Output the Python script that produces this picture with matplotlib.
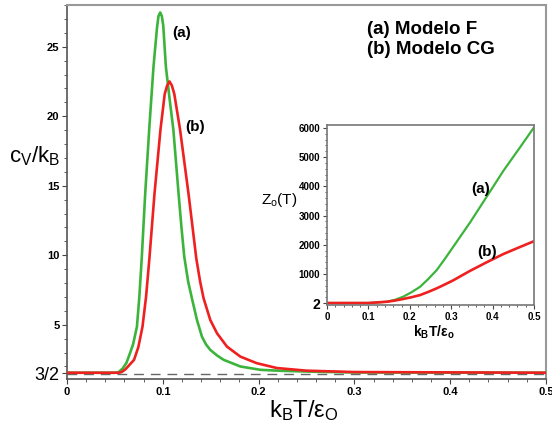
import numpy as np
import matplotlib
matplotlib.use("Agg")
import matplotlib.pyplot as plt
from matplotlib.ticker import MultipleLocator

plt.rcParams['font.family'] = ['Liberation Sans', 'DejaVu Sans']
plt.rcParams['mathtext.fontset'] = 'custom'
plt.rcParams['mathtext.rm'] = 'Liberation Sans'
plt.rcParams['mathtext.it'] = 'Liberation Sans'

# main panel: specific heat, model F (a) and model CG (b)
t_a = [0, 0.05, 0.054, 0.058, 0.062, 0.066, 0.069, 0.073, 0.0755, 0.078, 0.0816, 0.0858,
       0.0903, 0.094, 0.0955, 0.0973, 0.099, 0.1005, 0.1032, 0.107, 0.111, 0.1165, 0.1195,
       0.1224, 0.1265, 0.1304, 0.1357, 0.1409, 0.145, 0.1496, 0.1565, 0.1635, 0.181,
       0.202, 0.223, 0.26, 0.3, 0.5]
cv_a = [1.55, 1.55, 1.6, 1.85, 2.25, 3.0, 3.6, 4.86, 7.0, 9.76, 14.4, 19.05,
        23.57, 26.4, 27.2, 27.46, 27.2, 26.5, 23.57, 21.3, 19.05, 14.4, 12.0,
        9.9, 8.1, 6.9, 5.34, 4.14, 3.6, 3.19, 2.8, 2.48, 2.0,
        1.76, 1.69, 1.62, 1.57, 1.55]

t_b = [0, 0.054, 0.057, 0.061, 0.065, 0.070, 0.0745, 0.0788, 0.0825, 0.086, 0.0913, 0.0976,
       0.102, 0.1045, 0.107, 0.1095, 0.112, 0.118, 0.1269, 0.135, 0.139, 0.1426, 0.1496,
       0.1566, 0.167, 0.181, 0.198, 0.219, 0.25, 0.3, 0.5]
cv_b = [1.55, 1.55, 1.6, 1.8, 2.1, 2.48, 3.4, 4.86, 7.0, 9.76, 14.4, 19.05,
        21.6, 22.2, 22.5, 22.2, 21.6, 19.05, 14.4, 9.76, 8.1, 6.9, 5.34,
        4.39, 3.43, 2.71, 2.24, 1.89, 1.7, 1.6, 1.55]

# inset: partition function Z_o(T)
tz = [0, 0.1, 0.144, 0.164, 0.184, 0.204, 0.225, 0.245, 0.265, 0.285, 0.305,
      0.345, 0.386, 0.426, 0.466, 0.5]
z_a = [2, 2, 45, 110, 218, 370, 560, 830, 1130, 1520, 1930,
       2750, 3650, 4530, 5330, 6020]
z_b = [2, 2, 45, 85, 140, 200, 275, 385, 505, 640, 780,
       1100, 1400, 1680, 1920, 2120]

green = '#3cb43c'
red = '#ee2020'

fig = plt.figure(figsize=(5.52, 4.33), dpi=100)
ax = fig.add_axes([0.1214, 0.1247, 0.8676, 0.8638])
ax.plot(t_a, cv_a, color=green, lw=1.9, zorder=3)
ax.plot(t_b, cv_b, color=red, lw=1.9, zorder=4)
ax.axhline(1.45, color='#666666', lw=1.0, ls=(0, (7, 5)), zorder=2)
ax.set_xlim(0, 0.5)
ax.set_ylim(1.1, 28)

ax.set_xticks([0, 0.1, 0.2, 0.3, 0.4, 0.5])
ax.set_xticklabels(['0', '0.1', '0.2', '0.3', '0.4', '0.5'], fontsize=8, fontweight='bold')
ax.xaxis.set_minor_locator(MultipleLocator(0.02))
ax.set_yticks([1.5, 5, 10, 15, 20, 25])
ax.set_yticklabels(['3/2', '5', '10', '15', '20', '25'], fontsize=8, fontweight='bold')
ax.get_yticklabels()[0].set_fontsize(13)
ax.get_yticklabels()[0].set_fontweight('normal')
ax.yaxis.set_minor_locator(MultipleLocator(1))
ax.tick_params(which='major', length=3.5, width=0.8, color='#444444', pad=2)
ax.tick_params(which='minor', length=2, width=0.6, color='#444444')
for s in ['left', 'bottom']:
    ax.spines[s].set_color('#555555')
    ax.spines[s].set_linewidth(1.2)
for s in ['top', 'right']:
    ax.spines[s].set_color('#999999')
    ax.spines[s].set_linewidth(1.5)

ax.text(0.1095, 26.0, '(a)', fontsize=11, fontweight='bold', va='center')
ax.text(0.1234, 19.2, '(b)', fontsize=11, fontweight='bold', va='center')
fig.text(0.062, 0.64, r'$\mathregular{c_V/k_B}$', fontsize=16, ha='center', va='center')
fig.text(0.55, 0.053, r'$\mathregular{k_BT/\epsilon_O}$', fontsize=17, ha='center', va='center')
fig.text(0.665, 0.931, '(a) Modelo F', fontsize=13.5, fontweight='bold', va='center')
fig.text(0.665, 0.885, '(b) Modelo CG', fontsize=13.5, fontweight='bold', va='center')

ins = fig.add_axes([0.5924, 0.2956, 0.375, 0.4157])
ins.plot(tz, z_a, color=green, lw=1.6)
ins.plot(tz, z_b, color=red, lw=1.9)
ins.set_xlim(0, 0.5)
ins.set_ylim(-66, 6100)
ins.set_xticks([0, 0.1, 0.2, 0.3, 0.4, 0.5])
ins.set_xticklabels(['0', '0.1', '0.2', '0.3', '0.4', '0.5'], fontsize=7, fontweight='bold')
ins.xaxis.set_minor_locator(MultipleLocator(0.02))
ins.set_yticks([2, 1000, 2000, 3000, 4000, 5000, 6000])
ins.set_yticklabels(['2', '1000', '2000', '3000', '4000', '5000', '6000'], fontsize=7, fontweight='bold')
ins.get_yticklabels()[0].set_fontsize(10)
ins.yaxis.set_minor_locator(MultipleLocator(200))
ins.tick_params(which='major', length=3, width=0.8, color='#444444', pad=2)
ins.tick_params(which='minor', length=1.5, width=0.6, color='#444444')
for s in ins.spines.values():
    s.set_color('#777777')
    s.set_linewidth(1.2)
ins.text(0.37, 3910, '(a)', fontsize=11, fontweight='bold', ha='center', va='center')
ins.text(0.386, 1750, '(b)', fontsize=11, fontweight='bold', ha='center', va='center')
fig.text(0.505, 0.538, r'$\mathregular{Z_o(T)}$', fontsize=11, ha='center', va='center')
fig.text(0.786, 0.233, r'$\mathregular{k_BT/\epsilon_o}$', fontsize=10, fontweight='bold',
         ha='center', va='center')

fig.savefig('out.png', dpi=100)
